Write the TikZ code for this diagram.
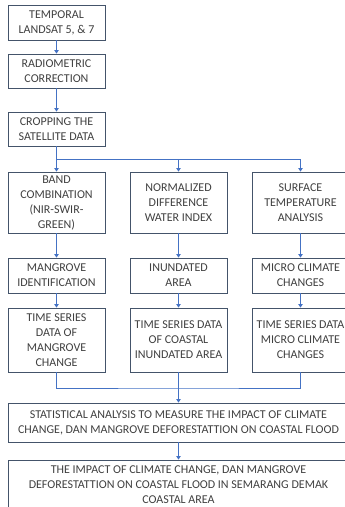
\documentclass[tikz,border=0pt]{standalone}
\usepackage{fontspec}
\setmainfont{Carlito}
\usetikzlibrary{arrows.meta}
\definecolor{boxline}{HTML}{44546A}
\definecolor{flowline}{HTML}{4472C4}
\definecolor{boxtext}{HTML}{404040}
\begin{document}
\begin{tikzpicture}[x=1pt,y=-1pt,
	box/.style={draw=boxline,line width=0.9pt,fill=white,inner sep=0pt,align=center,text=boxtext,font=\fontsize{12}{15}\selectfont},
	colbox/.style={box,minimum width=97pt},
	widebox/.style={box,minimum width=341pt},
	flow/.style={draw=flowline,line width=0.9pt},
	conn/.style={flow,-{Triangle[width=4.5pt,length=3.5pt]}}]
	\useasboundingbox (0,0) rectangle (345,507);
	\clip (0,0) rectangle (345,507);
	
	\node[colbox,minimum height=35pt] (landsat) at (56.5,22.5){TEMPORAL\\ LANDSAT 5, \& 7};
	\node[colbox,minimum height=34pt] (radio) at (56.5,71){RADIOMETRIC\\ CORRECTION};
	\node[colbox,minimum height=34pt] (crop) at (56.5,129){CROPPING THE\\ SATELLITE DATA};
	
	\node[colbox,minimum height=61pt] (band) at (56.5,202.5){BAND\\ COMBINATION\\ (NIR-SWIR-\\ GREEN)};
	\node[colbox,minimum height=61pt] (ndwi) at (178.5,202.5){NORMALIZED\\ DIFFERENCE\\ WATER INDEX};
	\node[colbox,minimum height=61pt] (surf) at (300.5,202.5){SURFACE\\ TEMPERATURE\\ ANALYSIS};
	
	\node[colbox,minimum height=35pt] (mangid) at (56.5,275.5){MANGROVE\\ IDENTIFICATION};
	\node[colbox,minimum height=35pt] (inund) at (178.5,275.5){INUNDATED\\ AREA};
	\node[colbox,minimum height=35pt] (micro) at (300.5,275.5){MICRO CLIMATE\\ CHANGES};
	
	\node[colbox,minimum height=64pt] (mangts) at (56.5,340){TIME SERIES\\ DATA OF\\ MANGROVE\\ CHANGE};
	\node[colbox,minimum height=64pt] (inundts) at (178.5,340){TIME SERIES DATA\\ OF COASTAL\\ INUNDATED AREA};
	\node[colbox,minimum height=64pt] (microts) at (300.5,340){TIME SERIES DATA\\ MICRO CLIMATE\\ CHANGES};
	
	\node[widebox,minimum height=39pt] (stat) at (178.5,422.5){STATISTICAL ANALYSIS TO MEASURE THE IMPACT OF CLIMATE\\ CHANGE, DAN MANGROVE DEFORESTATTION ON COASTAL FLOOD};
	\node[widebox,minimum height=50pt] (impact) at (178.5,485){THE IMPACT OF CLIMATE CHANGE, DAN MANGROVE\\ DEFORESTATTION ON COASTAL FLOOD IN SEMARANG DEMAK\\ COASTAL AREA};
	
	\coordinate (split) at (178.5,159.5);
	\coordinate (merge) at (178.5,388);
	
	\draw[conn] (landsat) -- (radio);
	\draw[conn] (radio) -- (crop);
	\draw[conn] (crop) -- (band);
	\draw[conn] (split -| band) -| (ndwi);
	\draw[conn] (split) -| (surf);
	
	\draw[conn] (band) -- (mangid);
	\draw[conn] (ndwi) -- (inund);
	\draw[conn] (surf) -- (micro);
	\draw[conn] (mangid) -- (mangts);
	\draw[conn] (inund) -- (inundts);
	\draw[conn] (micro) -- (microts);
	
	\draw[flow] (mangts) |- (merge) -| (microts);
	\draw[conn] (inundts) -- (stat);
	\draw[conn] (stat) -- (impact);
\end{tikzpicture}
\end{document}
